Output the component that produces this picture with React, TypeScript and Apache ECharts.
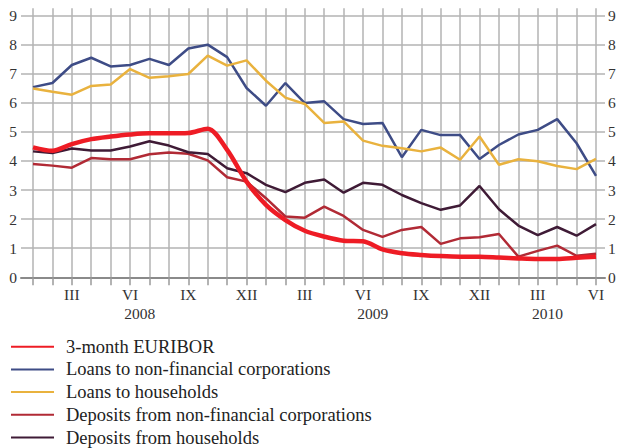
import React, { useEffect, useRef } from "react";
import * as echarts from "echarts";

const months = [
  "I","II","III","IV","V","VI","VII","VIII","IX","X","XI","XII",
  "I","II","III","IV","V","VI","VII","VIII","IX","X","XI","XII",
  "I","II","III","IV","V","VI",
];
const shownMonths = ["III", "VI", "IX", "XII"];
const yearLabels = ["2008", "2009", "2010"];
const yearPositions = [5.5, 17.5, 26.5];
const yTicks = [0, 1, 2, 3, 4, 5, 6, 7, 8, 9];

const euribor = [4.47,4.35,4.58,4.75,4.84,4.91,4.95,4.95,4.96,5.11,4.38,3.29,2.49,1.97,1.6,1.4,1.26,1.24,0.96,0.83,0.77,0.73,0.71,0.71,0.68,0.65,0.63,0.63,0.67,0.71];
const loansNFC = [6.54,6.68,7.3,7.55,7.25,7.3,7.51,7.3,7.87,8.0,7.57,6.51,5.9,6.68,5.99,6.05,5.44,5.27,5.31,4.13,5.07,4.89,4.89,4.07,4.55,4.91,5.07,5.44,4.61,3.49];
const loansHH = [6.49,6.38,6.28,6.58,6.63,7.16,6.86,6.91,6.99,7.62,7.28,7.46,6.76,6.18,5.96,5.31,5.36,4.7,4.52,4.44,4.33,4.46,4.04,4.84,3.87,4.06,3.99,3.83,3.72,4.07];
const depNFC = [3.9,3.84,3.77,4.1,4.06,4.06,4.23,4.29,4.25,4.02,3.44,3.29,2.72,2.09,2.05,2.43,2.11,1.63,1.39,1.63,1.73,1.15,1.34,1.38,1.49,0.71,0.91,1.09,0.74,0.81];
const depHH = [4.33,4.27,4.43,4.36,4.36,4.5,4.68,4.53,4.3,4.24,3.75,3.58,3.18,2.93,3.25,3.36,2.91,3.25,3.18,2.83,2.55,2.32,2.47,3.14,2.34,1.78,1.45,1.73,1.43,1.83];

const seriesNames = [
  "3-month EURIBOR",
  "Loans to non-financial corporations",
  "Loans to households",
  "Deposits from non-financial corporations",
  "Deposits from households",
];
const seriesColors = ["#ee1c25", "#3e4c86", "#e9b23e", "#b12a35", "#3f1b36"];

const FONT = "Liberation Serif";

export default function App() {
  const ref = useRef<HTMLDivElement>(null);
  useEffect(() => {
    if (!ref.current) return;
    const chart = echarts.init(ref.current, undefined, { renderer: "svg" });
    const top = 8.3;
    const bottom = 170.7;
    const yMax = 9.25;
    const grid = "#b3b3b3";
    const datasets = [euribor, loansNFC, loansHH, depNFC, depHH];
    chart.setOption({
      animation: false,
      backgroundColor: "#ffffff",
      textStyle: { fontFamily: FONT },
      grid: [
        { left: 21, right: 18, top, bottom },
        { left: 33, right: 27, top, bottom },
      ],
      xAxis: [
        {
          type: "value",
          gridIndex: 0,
          min: 0,
          max: 1,
          axisLine: { show: true, onZero: false, lineStyle: { color: "#8a8a8a", width: 2 } },
          axisTick: { show: false },
          axisLabel: { show: false },
          splitLine: { show: false },
        },
        {
          type: "category",
          gridIndex: 1,
          data: months,
          boundaryGap: false,
          axisLine: { show: false },
          axisTick: {
            show: true,
            interval: 0,
            length: 8,
            lineStyle: { color: "#9a9a9a", width: 1.5 },
          },
          axisLabel: {
            interval: 0,
            margin: 9,
            fontFamily: FONT,
            fontSize: 15.5,
            color: "#333",
            formatter: (v: string, i: number) =>
              i % 3 === 2 && shownMonths.includes(v) ? v : "",
          },
          splitLine: {
            show: true,
            interval: 0,
            lineStyle: { color: grid, width: 1.5 },
          },
        },
        {
          type: "value",
          gridIndex: 1,
          min: 0,
          max: months.length - 1,
          position: "bottom",
          axisLine: { show: false },
          axisTick: { show: false },
          splitLine: { show: false },
          axisLabel: {
            customValues: yearPositions,
            margin: 28,
            fontFamily: FONT,
            fontSize: 15.5,
            color: "#333",
            formatter: (v: number) => {
              const k = yearPositions.indexOf(v);
              return k >= 0 ? yearLabels[k] : "";
            },
          },
        },
      ],
      yAxis: [
        {
          type: "value",
          gridIndex: 0,
          min: 0,
          max: yMax,
          interval: 1,
          position: "left",
          axisLine: { show: false },
          axisTick: { show: false },
          axisLabel: {
            margin: 4,
            fontFamily: FONT,
            fontSize: 15.5,
            color: "#333",
            customValues: yTicks,
          },
          splitLine: {
            show: true,
            showMaxLine: false,
            lineStyle: { color: grid, width: 1.5 },
          },
        },
        {
          type: "value",
          gridIndex: 0,
          min: 0,
          max: yMax,
          interval: 1,
          position: "right",
          axisLine: { show: false },
          axisTick: { show: false },
          axisLabel: {
            margin: 3,
            fontFamily: FONT,
            fontSize: 15.5,
            color: "#333",
            customValues: yTicks,
          },
          splitLine: { show: false },
        },
        {
          type: "value",
          gridIndex: 1,
          min: 0,
          max: yMax,
          show: false,
        },
      ],
      legend: {
        orient: "vertical",
        left: 10,
        top: 337.2,
        height: 130,
        padding: 0,
        itemWidth: 43,
        itemHeight: 14,
        itemGap: 3.7,
        selectedMode: false,
        data: seriesNames,
        itemStyle: { opacity: 0 },
        textStyle: {
          fontFamily: FONT,
          fontSize: 18.5,
          color: "#222",
          padding: [0, 0, 0, 7],
        },
      },
      series: datasets.map((d, i) => ({
        name: seriesNames[i],
        type: "line",
        xAxisIndex: 1,
        yAxisIndex: 2,
        data: d,
        symbol: "none",
        smooth: i === 0 ? 0.3 : false,
        z: i === 0 ? 5 : 3,
        lineStyle: { color: seriesColors[i], width: i === 0 ? 4.5 : 2.5 },
        itemStyle: { color: seriesColors[i] },
      })),
    });
    return () => chart.dispose();
  }, []);
  return <div ref={ref} style={{ width: 623, height: 448, position: "absolute", left: 0, top: 0 }} />;
}
